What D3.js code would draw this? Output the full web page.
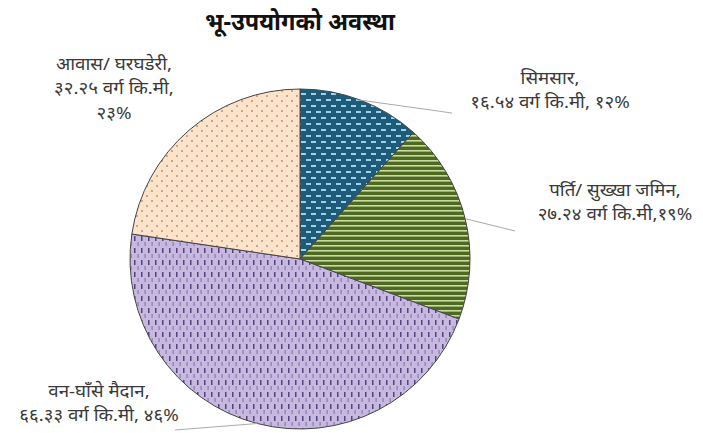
<!DOCTYPE html>
<html><head><meta charset="utf-8">
<script src="https://cdn.jsdelivr.net/npm/d3@7"></script>
<style>body{margin:0;background:#fff}svg{display:block}text{font-family:"Noto Sans","Noto Sans Devanagari","Lohit Devanagari",sans-serif;fill:#3a3a3a}</style>
</head><body><div id="chart"></div>
<script>
const title = "भू-उपयोगको अवस्था";
const categories = ["सिमसार", "पर्ति/ सुख्खा जमिन", "वन-घाँसे मैदान", "आवास/ घरघडेरी"];
const areas = [16.54, 27.24, 66.33, 32.25];
const areaLabels = ["१६.५४", "२७.२४", "६६.३३", "३२.२५"];
const percentLabels = ["१२%", "१९%", "४६%", "२३%"];
const unit = "वर्ग कि.मी";

const W = 703, H = 433;
const svg = d3.select("#chart").append("svg").attr("width", W).attr("height", H);
const defs = svg.append("defs");

// patterns
const p1 = defs.append("pattern").attr("id","pSim").attr("patternUnits","userSpaceOnUse").attr("width",10).attr("height",12);
p1.append("rect").attr("width",10).attr("height",12).attr("fill","#1d5b78");
p1.append("rect").attr("x",1).attr("y",2).attr("width",5).attr("height",2).attr("fill","#9dd3ea");
p1.append("rect").attr("x",6).attr("y",8).attr("width",5).attr("height",2).attr("fill","#9dd3ea");
p1.append("rect").attr("x",-4).attr("y",8).attr("width",5).attr("height",2).attr("fill","#9dd3ea");

const p2 = defs.append("pattern").attr("id","pPar").attr("patternUnits","userSpaceOnUse").attr("width",8).attr("height",5);
p2.append("rect").attr("width",8).attr("height",5).attr("fill","#4d6a20");
p2.append("rect").attr("y",1).attr("width",8).attr("height",1.6).attr("fill","#c9dba2");

const p3 = defs.append("pattern").attr("id","pBan").attr("patternUnits","userSpaceOnUse").attr("width",7).attr("height",12);
p3.append("rect").attr("width",7).attr("height",12).attr("fill","#c6b8df");
p3.append("rect").attr("x",2).attr("y",1).attr("width",1.5).attr("height",5).attr("fill","#54437f");
p3.append("rect").attr("x",5.5).attr("y",7).attr("width",1.2).attr("height",4).attr("fill","#8a7ab0");

const p4 = defs.append("pattern").attr("id","pAwa").attr("patternUnits","userSpaceOnUse").attr("width",10).attr("height",10);
p4.append("rect").attr("width",10).attr("height",10).attr("fill","#fde3ca");
p4.append("circle").attr("cx",2).attr("cy",2).attr("r",0.9).attr("fill","#b08a6a");
p4.append("circle").attr("cx",7).attr("cy",7).attr("r",0.9).attr("fill","#b08a6a");

const fills = ["url(#pSim)","url(#pPar)","url(#pBan)","url(#pAwa)"];

svg.append("text").attr("x",300).attr("y",30).attr("text-anchor","middle")
  .attr("font-size",23.5).attr("font-weight","bold").style("fill","#111").text(title);

const cx = 300, cy = 259, r = 170;
const g = svg.append("g").attr("transform",`translate(${cx},${cy})`);
const pie = d3.pie().sort(null).value(d=>d)(areas);
const arc = d3.arc().innerRadius(0).outerRadius(r);
g.selectAll("path").data(pie).join("path").attr("d",arc)
  .attr("fill",(d,i)=>fills[i]).attr("stroke","#444").attr("stroke-width",1);

// labels
const labelPos = [
  {x:550, y:84, lines:[categories[0]+",", areaLabels[0]+" "+unit+", "+percentLabels[0]], lead:[452,113]},
  {x:615, y:196, lines:[categories[1]+",", areaLabels[1]+" "+unit+","+percentLabels[1]], lead:[515,231]},
  {x:99, y:397, lines:[categories[2]+",", areaLabels[2]+" "+unit+", "+percentLabels[2]], lead:[175,430]},
  {x:114, y:70, lines:[categories[3]+",", areaLabels[3]+" "+unit+",", percentLabels[3]], lead:null}
];
const outer = d3.arc().innerRadius(r).outerRadius(r);
const lineGap = 24.5, sx = 1.1;
pie.forEach((d,i)=>{
  const L = labelPos[i];
  if (L.lead){
    const c = outer.centroid(d);
    svg.append("path").attr("d",`M${L.lead[0]},${L.lead[1]}L${cx+c[0]},${cy+c[1]}`)
      .attr("stroke","#aaa").attr("stroke-width",1).attr("fill","none");
  }
  const lg = svg.append("g").attr("transform",`translate(${L.x},${L.y}) scale(${sx},1)`);
  L.lines.forEach((s,k)=>{
    lg.append("text").attr("x",0).attr("y",k*lineGap).attr("text-anchor","middle")
      .attr("font-size",17).text(s);
  });
});
</script></body></html>
